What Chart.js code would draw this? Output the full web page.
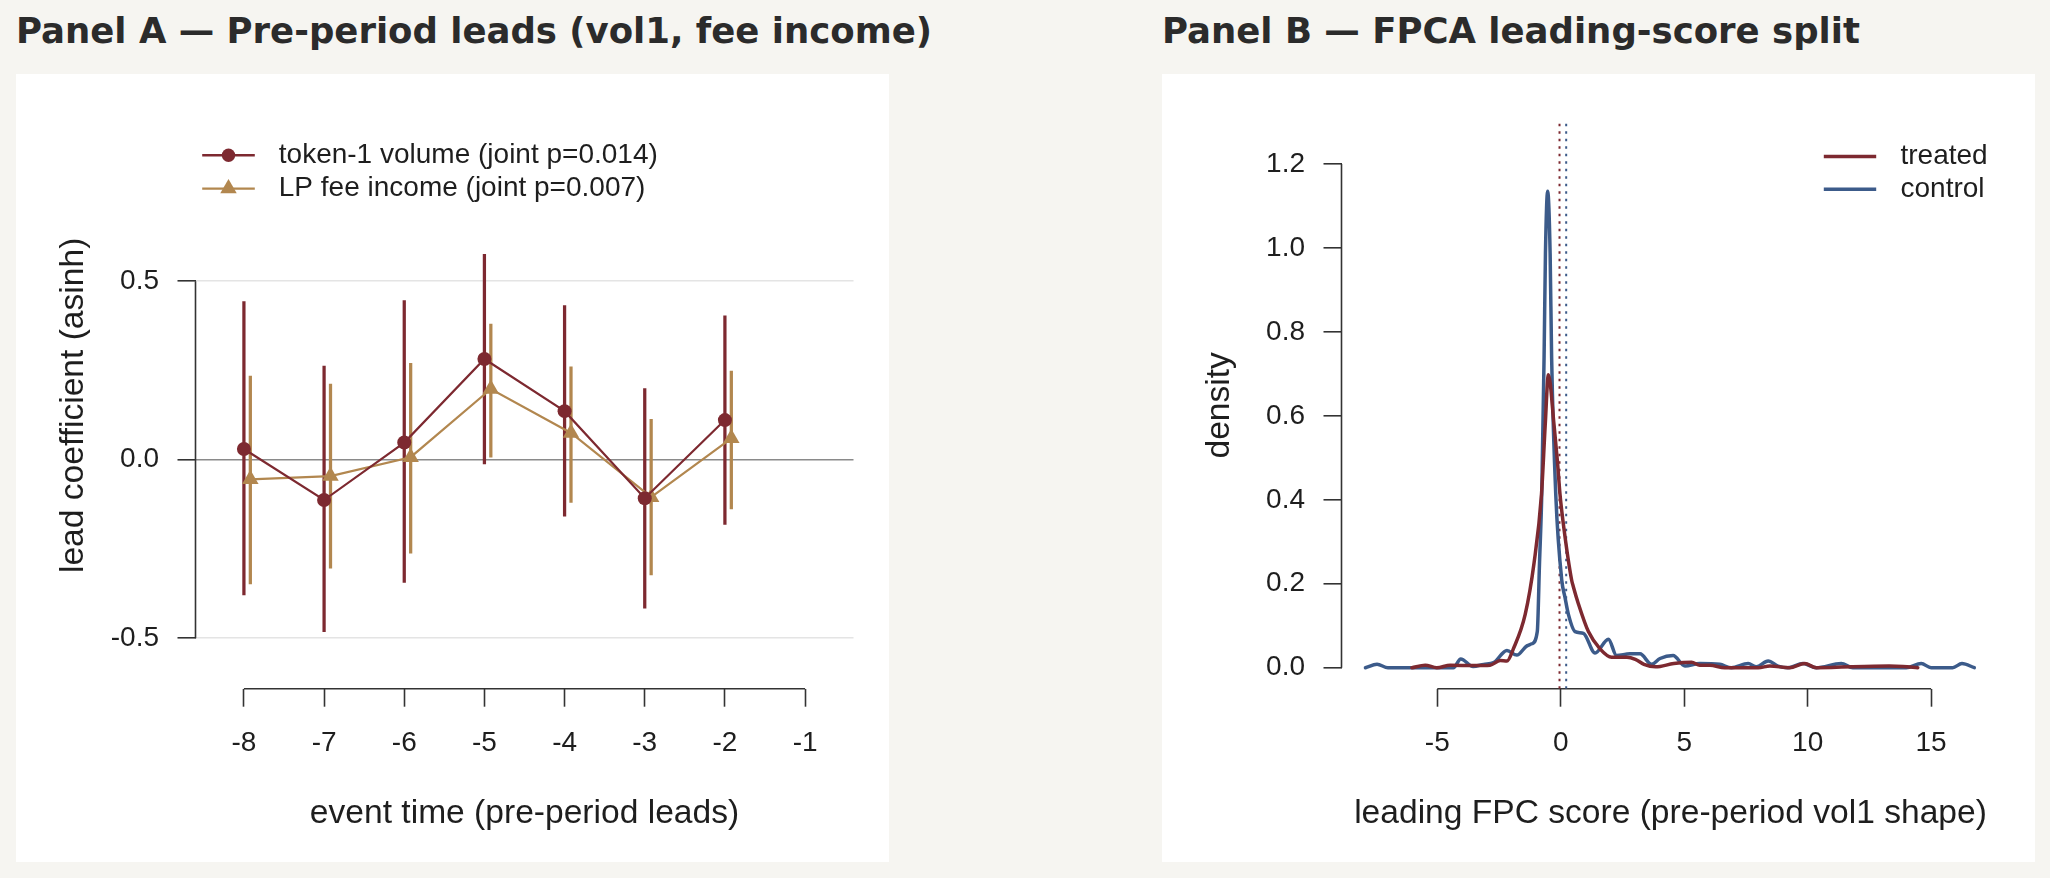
<!DOCTYPE html>
<html>
<head>
<meta charset="utf-8">
<script src="https://cdn.jsdelivr.net/npm/chart.js@4.4.1/dist/chart.umd.min.js"></script>
<style>
html, body { margin: 0; padding: 0; background: #f6f5f1; }
body { width: 2050px; height: 878px; position: relative; overflow: hidden; }
h2 { position: absolute; top: 13px; margin: 0; font: bold 35.5px "DejaVu Sans", sans-serif; line-height: 35.5px; color: #2b2b2b; white-space: nowrap; }
.card { position: absolute; top: 74px; width: 873px; height: 788px; background: #fff; }
canvas { display: block; }
</style>
</head>
<body>
<h2 style="left:16px">Panel A — Pre-period leads (vol1, fee income)</h2>
<h2 style="left:1162px">Panel B — FPCA leading-score split</h2>
<div class="card" style="left:16px"><canvas id="panelA" width="873" height="788"></canvas></div>
<div class="card" style="left:1162px"><canvas id="panelB" width="873" height="788"></canvas></div>
<script>
// Panel A: event-study leads with 95% intervals
const leadTimes = [-8, -7, -6, -5, -4, -3, -2];
const volCoef = [0.030, -0.113, 0.048, 0.282, 0.136, -0.108, 0.111];
const volLo   = [-0.379, -0.482, -0.344, -0.012, -0.158, -0.416, -0.181];
const volHi   = [0.443, 0.262, 0.446, 0.575, 0.432, 0.199, 0.403];
const feeCoef = [-0.055, -0.046, 0.007, 0.198, 0.075, -0.105, 0.060];
const feeLo   = [-0.348, -0.304, -0.262, 0.007, -0.120, -0.323, -0.138];
const feeHi   = [0.234, 0.212, 0.270, 0.380, 0.260, 0.113, 0.248];
const feeDodge = 0.08;
const legendA = ["token-1 volume (joint p=0.014)", "LP fee income (joint p=0.007)"];
const xTicksA = [-8, -7, -6, -5, -4, -3, -2, -1];
const yTicksA = [-0.5, 0, 0.5];
const xLimA = [-8.604, -0.396];
const yLimA = [-0.6415, 0.946];

// Panel B: density of the leading FPC score
const treatedX = [-6.03, -5.49, -5.02, -4.48, -3.5, -2.86, -2.45, -2.18, -1.92, -1.44, -1.08, -0.78, -0.63, -0.50, -0.27, -0.14, -0.03, 0.13, 0.44, 0.51, 0.71, 1.12, 1.59, 2.06, 2.68, 3.02, 3.37, 3.84, 4.58, 5.3, 5.63, 6.04, 6.64, 8.0, 8.47, 9.27, 9.88, 10.35, 13.3, 13.86, 14.46];
const treatedY = [0, 0.006, 0, 0.006, 0.005, 0.006, 0.017, 0.016, 0.045, 0.127, 0.25, 0.413, 0.577, 0.698, 0.577, 0.495, 0.413, 0.331, 0.209, 0.193, 0.153, 0.086, 0.045, 0.025, 0.025, 0.02, 0.008, 0.002, 0.01, 0.013, 0.006, 0.006, 0, 0, 0.004, 0, 0.01, 0, 0.004, 0.003, 0];
const controlX = [-7.91, -7.44, -7.0, -6.0, -5.0, -4.35, -4.05, -3.55, -3.12, -2.72, -2.18, -1.78, -1.37, -1.17, -0.95, -0.86, -0.77, -0.675, -0.62, -0.53, -0.43, -0.37, -0.2, 0.04, 0.17, 0.31, 0.58, 0.92, 1.39, 1.93, 2.26, 2.8, 3.21, 3.68, 4.02, 4.55, 5.03, 5.63, 6.44, 6.91, 7.59, 7.92, 8.4, 8.8, 9.2, 9.81, 10.35, 11.36, 11.83, 13.99, 14.6, 15.0, 15.87, 16.25, 16.75];
const controlY = [0, 0.008, 0, 0, 0, 0, 0.021, 0.003, 0.008, 0.012, 0.041, 0.030, 0.052, 0.057, 0.086, 0.25, 0.413, 0.74, 0.986, 1.135, 0.986, 0.74, 0.41, 0.209, 0.168, 0.127, 0.086, 0.082, 0.035, 0.068, 0.029, 0.033, 0.033, 0.008, 0.022, 0.029, 0.004, 0.010, 0.008, 0, 0.010, 0.002, 0.016, 0.004, 0, 0.010, 0, 0.010, 0, 0, 0.010, 0, 0, 0.010, 0];
const treatedMean = -0.05;
const controlMean = 0.22;
const legendB = ["treated", "control"];
const xTicksB = [-5, 0, 5, 10, 15];
const yTicksB = [0, 0.2, 0.4, 0.6, 0.8, 1.0, 1.2];
const xLimB = [-8.88, 17.77];
const yLimB = [-0.05, 1.30];

const FONT = '"Liberation Sans", Arial, Helvetica, sans-serif';
const INK = "#1e1e1e";
const AXIS = "#333333";
const MAROON = "#7d2930";
const TAN = "#b2874f";
const BLUE = "#3c5b8a";

Chart.defaults.font.family = FONT;
Chart.defaults.color = INK;

// R-style axis: the axis line only runs from first to last tick
const rAxis = {
    id: "rAxis",
    beforeDatasetsDraw(chart) {
        const { ctx, chartArea } = chart;
        const xs = chart.scales.x, ys = chart.scales.y;
        ctx.save();
        ctx.strokeStyle = AXIS;
        ctx.lineWidth = 1.6;
        ctx.beginPath();
        ctx.moveTo(xs.getPixelForValue(xs.ticks[0].value), chartArea.bottom);
        ctx.lineTo(xs.getPixelForValue(xs.ticks[xs.ticks.length - 1].value), chartArea.bottom);
        ctx.moveTo(chartArea.left, ys.getPixelForValue(ys.ticks[0].value));
        ctx.lineTo(chartArea.left, ys.getPixelForValue(ys.ticks[ys.ticks.length - 1].value));
        ctx.stroke();
        ctx.restore();
    }
};

function drawMarker(ctx, style, x, y, r) {
    ctx.beginPath();
    if (style === "circle") {
        ctx.arc(x, y, r, 0, Math.PI * 2);
    } else {
        ctx.moveTo(x, y - r);
        ctx.lineTo(x + r * Math.sin(Math.PI / 3), y + r / 2);
        ctx.lineTo(x - r * Math.sin(Math.PI / 3), y + r / 2);
        ctx.closePath();
    }
    ctx.fill();
}

// legend drawn inside the plot, like R's legend()
function makeLegend(cfg) {
    return {
        id: "rLegend",
        afterDraw(chart) {
            const { ctx, chartArea } = chart;
            const x0 = cfg.side === "left" ? chartArea.left + cfg.dx : chartArea.right - cfg.dx;
            cfg.items.forEach((it, i) => {
                const y = chartArea.top + cfg.dy + i * cfg.gap;
                ctx.save();
                ctx.strokeStyle = it.color;
                ctx.fillStyle = it.color;
                ctx.lineWidth = it.width;
                ctx.beginPath();
                ctx.moveTo(x0, y);
                ctx.lineTo(x0 + cfg.lineLen, y);
                ctx.stroke();
                if (it.marker) drawMarker(ctx, it.marker, x0 + cfg.lineLen / 2, y, it.size);
                ctx.fillStyle = INK;
                ctx.font = "28px " + FONT;
                ctx.textAlign = "left";
                ctx.textBaseline = "middle";
                ctx.fillText(it.text, x0 + cfg.textDx, y);
                ctx.restore();
            });
        }
    };
}

function xScale(lim, ticks, title) {
    return {
        type: "linear", min: lim[0], max: lim[1], offset: false,
        afterBuildTicks: s => { s.ticks = ticks.map(v => ({ value: v })); },
        afterFit: s => { s.height = 173.3; },
        border: { display: false },
        grid: { drawOnChartArea: false, drawTicks: true, tickLength: 18, tickWidth: 1.6, tickColor: AXIS, offset: false },
        ticks: { color: INK, font: { size: 28 }, padding: 20, maxRotation: 0, autoSkip: false, callback: v => String(v) },
        title: { display: true, text: title, color: INK, font: { size: 33.6 }, padding: { top: 0, bottom: 27.8 } }
    };
}

function yScale(lim, ticks, title, gridColor) {
    return {
        type: "linear", min: lim[0], max: lim[1],
        afterBuildTicks: s => { s.ticks = ticks.map(v => ({ value: v })); },
        afterFit: s => { s.width = 179.5; },
        border: { display: false },
        grid: {
            drawOnChartArea: !!gridColor,
            color: gridColor || "rgba(0,0,0,0)",
            lineWidth: 1.6,
            drawTicks: true, tickLength: 18, tickWidth: 1.6, tickColor: AXIS
        },
        ticks: { color: INK, font: { size: 28 }, padding: 18.5, autoSkip: false, callback: v => v.toFixed(1) },
        title: { display: true, text: title, color: INK, font: { size: 33.6 }, padding: { top: 37.8, bottom: 0 } }
    };
}

const baseOptions = {
    responsive: false,
    animation: false,
    devicePixelRatio: 1,
    events: [],
    layout: { padding: { left: 0, right: 35.5, top: 48, bottom: 0 } },
    plugins: { legend: { display: false }, tooltip: { enabled: false }, title: { display: false } }
};

new Chart(document.getElementById("panelA"), {
    type: "line",
    data: {
        datasets: [
            {
                type: "bar", order: 3, grouped: false, barThickness: 2.6,
                backgroundColor: MAROON,
                data: leadTimes.map((t, i) => ({ x: t, y: [volLo[i], volHi[i]] }))
            },
            {
                type: "bar", order: 3, grouped: false, barThickness: 2.6,
                backgroundColor: TAN,
                data: leadTimes.map((t, i) => ({ x: t + feeDodge, y: [feeLo[i], feeHi[i]] }))
            },
            {
                type: "line", order: 1, label: legendA[0],
                borderColor: MAROON, borderWidth: 2.2, backgroundColor: MAROON,
                pointStyle: "circle", pointRadius: 7, pointBorderWidth: 0,
                data: leadTimes.map((t, i) => ({ x: t, y: volCoef[i] }))
            },
            {
                type: "line", order: 2, label: legendA[1],
                borderColor: TAN, borderWidth: 2.2, backgroundColor: TAN,
                pointStyle: "triangle", pointRadius: 9.5, pointBorderWidth: 0,
                data: leadTimes.map((t, i) => ({ x: t + feeDodge, y: feeCoef[i] }))
            }
        ]
    },
    options: {
        ...baseOptions,
        scales: {
            x: xScale(xLimA, xTicksA, "event time (pre-period leads)"),
            y: yScale(yLimA, yTicksA, "lead coefficient (asinh)",
                c => (c.tick && c.tick.value === 0) ? "#8a8a8a" : "#e4e4e4")
        }
    },
    plugins: [rAxis, makeLegend({
        side: "left", dx: 6.7, dy: 33.2, gap: 33.4, lineLen: 52.6, textDx: 76.6,
        items: [
            { text: legendA[0], color: MAROON, width: 2.4, marker: "circle", size: 6.7 },
            { text: legendA[1], color: TAN, width: 2.4, marker: "triangle", size: 9.5 }
        ]
    })]
});

new Chart(document.getElementById("panelB"), {
    type: "line",
    data: {
        datasets: [
            {
                order: 4, borderColor: MAROON, borderWidth: 2, borderDash: [2.5, 5], pointRadius: 0,
                data: [{ x: treatedMean, y: yLimB[0] }, { x: treatedMean, y: yLimB[1] }]
            },
            {
                order: 3, borderColor: BLUE, borderWidth: 2, borderDash: [2.5, 5], pointRadius: 0,
                data: [{ x: controlMean, y: yLimB[0] }, { x: controlMean, y: yLimB[1] }]
            },
            {
                order: 2, label: legendB[1], borderColor: BLUE, borderWidth: 3.5, pointRadius: 0,
                cubicInterpolationMode: "monotone", borderJoinStyle: "round", borderCapStyle: "round",
                data: controlX.map((x, i) => ({ x, y: controlY[i] }))
            },
            {
                order: 1, label: legendB[0], borderColor: MAROON, borderWidth: 3.5, pointRadius: 0,
                cubicInterpolationMode: "monotone", borderJoinStyle: "round", borderCapStyle: "round",
                data: treatedX.map((x, i) => ({ x, y: treatedY[i] }))
            }
        ]
    },
    options: {
        ...baseOptions,
        scales: {
            x: xScale(xLimB, xTicksB, "leading FPC score (pre-period vol1 shape)"),
            y: yScale(yLimB, yTicksB, "density", null)
        }
    },
    plugins: [rAxis, makeLegend({
        side: "right", dx: 175.7, dy: 34.5, gap: 32.8, lineLen: 52.4, textDx: 76.7,
        items: [
            { text: legendB[0], color: MAROON, width: 3.5 },
            { text: legendB[1], color: BLUE, width: 3.5 }
        ]
    })]
});
</script>
</body>
</html>
